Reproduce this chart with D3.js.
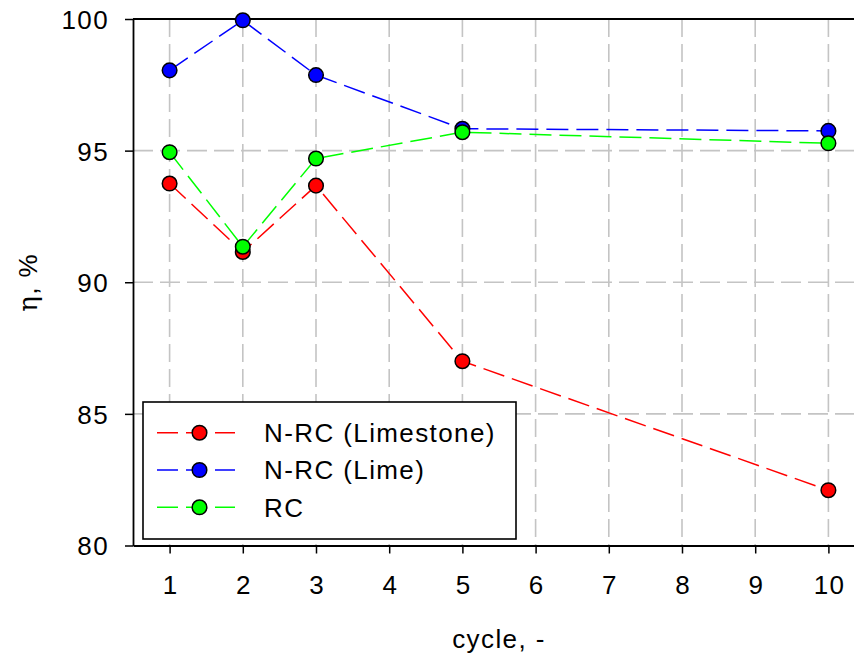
<!DOCTYPE html>
<html>
<head>
<meta charset="utf-8">
<script src="https://cdn.jsdelivr.net/npm/d3@7"></script>
<style>
  body { margin: 0; background: #fff; }
  svg { display: block; font-family: "Liberation Sans", Arial, sans-serif; }
  text { letter-spacing: 1.4px; }
</style>
</head>
<body>
<svg id="chart" width="854" height="657"></svg>
<script>
// data
var cycles = [1, 2, 3, 5, 10];
var limestone = [93.75, 91.15, 93.67, 87.0, 82.1];
var lime = [98.05, 99.95, 97.87, 95.83, 95.75];
var rc = [94.94, 91.35, 94.7, 95.7, 95.28];
var seriesNames = ["N-RC (Limestone)", "N-RC (Lime)", "RC"];
var seriesColors = ["#ff0000", "#0000ff", "#00ff00"];
var xTicks = [1, 2, 3, 4, 5, 6, 7, 8, 9, 10];
var yTicks = [80, 85, 90, 95, 100];

var series = [limestone, lime, rc].map(function(vals, i) {
  return {
    name: seriesNames[i],
    color: seriesColors[i],
    points: vals.map(function(v, j) { return { x: cycles[j], y: v }; })
  };
});

var svg = d3.select("#chart");
var pLeft = 133, pTop = 19, pBottom = 545.5, pRight = 865;

var x = d3.scaleLinear().domain([0.5, 10.5]).range([pLeft, pRight]);
var y = d3.scaleLinear().domain([80, 100]).range([pBottom, pTop]);

// grid
var grid = svg.append("g");
grid.selectAll("line.v")
  .data(xTicks)
  .enter()
  .append("line")
  .attr("x1", function(d) { return x(d); })
  .attr("x2", function(d) { return x(d); })
  .attr("y1", pTop)
  .attr("y2", pBottom)
  .attr("stroke", "#c4c4c4")
  .attr("stroke-width", 1.6)
  .attr("stroke-dasharray", "18,7");
grid.selectAll("line.h")
  .data(yTicks.slice(1, 4))
  .enter()
  .append("line")
  .attr("x1", pLeft)
  .attr("x2", pRight)
  .attr("y1", function(d) { return y(d); })
  .attr("y2", function(d) { return y(d); })
  .attr("stroke", "#c4c4c4")
  .attr("stroke-width", 1.6)
  .attr("stroke-dasharray", "20,7");

// frame top
svg.append("line")
  .attr("x1", pLeft).attr("x2", pRight)
  .attr("y1", pTop).attr("y2", pTop)
  .attr("stroke", "#000").attr("stroke-width", 1.8);

// axes
var xAxis = svg.append("g")
  .attr("transform", "translate(0," + pBottom + ")")
  .call(d3.axisBottom(x).tickValues(xTicks).tickSize(8).tickPadding(22).tickSizeOuter(0));
var yAxis = svg.append("g")
  .attr("transform", "translate(" + pLeft + ",0)")
  .call(d3.axisLeft(y).tickValues(yTicks).tickSize(8).tickPadding(16).tickSizeOuter(0));

[xAxis, yAxis].forEach(function(a) {
  a.select(".domain").attr("stroke-width", 1.8);
  a.selectAll(".tick line").attr("stroke-width", 1.5);
  a.selectAll("text")
    .attr("font-family", "Liberation Sans, Arial, sans-serif")
    .attr("font-size", 26)
    .attr("fill", "#000");
});
yAxis.selectAll("text").attr("dy", "0.36em");
xAxis.selectAll("text").attr("dx", "0.7px");

// axis titles
svg.append("text")
  .attr("x", (pLeft + pRight) / 2)
  .attr("y", 648)
  .attr("text-anchor", "middle")
  .attr("font-size", 26)
  .text("cycle, -");

var yt = svg.append("text")
  .attr("transform", "translate(37," + (pTop + pBottom) / 2 + ") rotate(-90)")
  .attr("text-anchor", "middle")
  .attr("font-size", 26);
yt.append("tspan").attr("font-family", "DejaVu Serif, serif").text("η");
yt.append("tspan").text(", %");

// lines and markers
var line = d3.line()
  .x(function(d) { return x(d.x); })
  .y(function(d) { return y(d.y); });

svg.selectAll("path.series")
  .data(series)
  .enter()
  .append("path")
  .attr("class", "series")
  .attr("d", function(d) { return line(d.points); })
  .attr("fill", "none")
  .attr("stroke", function(d) { return d.color; })
  .attr("stroke-width", 1.5)
  .attr("stroke-dasharray", "22,8");

series.forEach(function(s) {
  svg.append("g")
    .selectAll("circle")
    .data(s.points)
    .enter()
    .append("circle")
    .attr("cx", function(d) { return x(d.x); })
    .attr("cy", function(d) { return y(d.y); })
    .attr("r", 7.3)
    .attr("fill", s.color)
    .attr("stroke", "#000")
    .attr("stroke-width", 1.5);
});

// legend
var legend = svg.append("g");
legend.append("rect")
  .attr("x", 143).attr("y", 402)
  .attr("width", 373).attr("height", 137)
  .attr("fill", "#fff")
  .attr("stroke", "#000")
  .attr("stroke-width", 1.6);

var item = legend.selectAll("g.item")
  .data(series)
  .enter()
  .append("g")
  .attr("transform", function(d, i) { return "translate(0," + (432.7 + i * 37.3) + ")"; });
item.append("line")
  .attr("x1", 157).attr("x2", 235)
  .attr("stroke", function(d) { return d.color; })
  .attr("stroke-width", 1.5)
  .attr("stroke-dasharray", "21,8");
item.append("circle")
  .attr("cx", 199.5).attr("r", 7.3)
  .attr("fill", function(d) { return d.color; })
  .attr("stroke", "#000")
  .attr("stroke-width", 1.5);
item.append("text")
  .attr("x", 264)
  .attr("dy", "0.36em")
  .attr("font-size", 26)
  .text(function(d) { return d.name; });
</script>
</body>
</html>
